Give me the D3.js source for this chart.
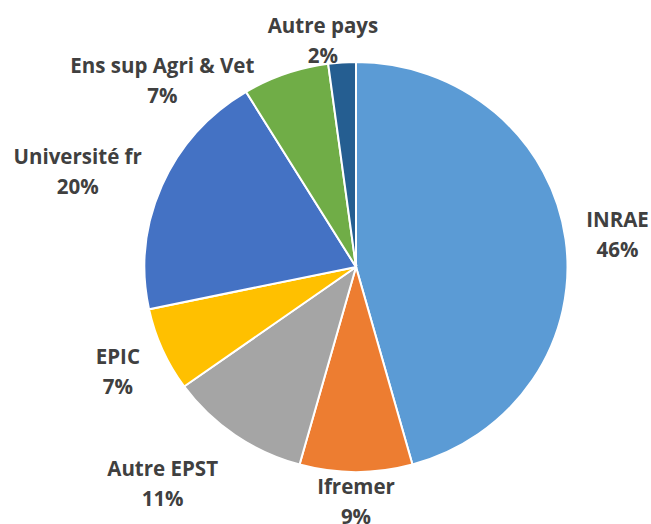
<!DOCTYPE html>
<html>
<head>
<meta charset="utf-8">
<script src="https://cdn.jsdelivr.net/npm/d3@7"></script>
<style>
  body { margin: 0; background: #fff; }
  .label { font-family: "Open Sans", Lato, sans-serif; font-weight: bold; font-size: 20.5px; fill: #404040; }
</style>
</head>
<body>
<div id="chart"></div>
<script>
// Pie chart of shares by organisation type

var categories = ["INRAE", "Ifremer", "Autre EPST", "EPIC", "Université fr", "Ens sup Agri & Vet", "Autre pays"];
var values = [45.7, 8.6, 10.8, 6.6, 19.6, 6.6, 2.1];
var colors = ["#5B9BD5", "#ED7D31", "#A5A5A5", "#FFC000", "#4472C4", "#70AD47", "#255E91"];

// hand tweaks to mimic Excel "best fit" label placement
var labelNudge = [[13, 0], [0, 0], [-36, 24], [-17, 10], [-18, -2], [-90, 36], [-15, 8]];

(function() {
  var width = 651, height = 524;
  var cx = 356, cy = 267,
      ry = 205, rx = 211.5,
      sx = rx / ry;

  var svg = d3.select("#chart")
    .append("svg")
    .attr("width", width)
    .attr("height", height);

  var data = categories.map(function(c, i) {
    return { name: c, value: values[i], color: colors[i], i: i };
  });

  var pie = d3.pie().sort(null).value(function(d) { return d.value; });
  var arc = d3.arc().innerRadius(0).outerRadius(ry);
  var total = d3.sum(values);

  var arcs = pie(data);

  svg.append("g")
    .attr("transform", "translate(" + cx + "," + cy + ") scale(" + sx + ",1)")
    .selectAll("path")
    .data(arcs)
    .enter().append("path")
    .attr("d", arc)
    .attr("fill", function(d) { return d.data.color; })
    .attr("stroke", "#fff")
    .attr("stroke-width", 2)
    .attr("vector-effect", "non-scaling-stroke");

  var labels = svg.append("g");

  arcs.forEach(function(d) {
    var a = (d.startAngle + d.endAngle) / 2;
    var s = Math.sin(a), c = Math.cos(a);
    var t = labels.append("text").attr("class", "label").attr("text-anchor", "middle");
    t.append("tspan").text(d.data.name);
    t.append("tspan").text(Math.round(d.value / total * 100) + "%");
    var w = d3.max(t.selectAll("tspan").nodes(), function(n) { return n.getComputedTextLength(); });
    var gap = 8, h = 44;
    var x = cx + (rx + gap) * s + w / 2 * s + labelNudge[d.data.i][0];
    var y = cy - (ry + gap) * c - h / 2 * c + labelNudge[d.data.i][1];
    t.selectAll("tspan")
      .attr("x", x)
      .attr("y", function(_, k) { return k === 0 ? y - 8 : y + 22; });
  });
})();
</script>
</body>
</html>
